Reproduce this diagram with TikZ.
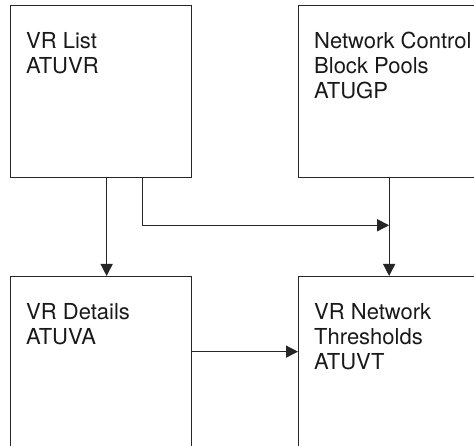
\documentclass[tikz,border=0pt]{standalone}
\usepackage{fontspec}
\setmainfont{TeX Gyre Heros}
\usetikzlibrary{arrows.meta,positioning}

\tikzset{
  blockbox/.style={draw=black!85,line width=1.3pt,minimum width=181pt,minimum height=172pt,inner sep=0pt,anchor=north west},
  blocktext/.style={anchor=north west,inner sep=0pt,align=left,text=black!90,font=\fontsize{22}{25}\selectfont},
  arr/.style={draw=black!85,line width=1.3pt,-{Triangle[length=12pt,width=12pt]}}
}

\begin{document}
\begin{tikzpicture}[x=1pt,y=1pt]
    \useasboundingbox (0,0) rectangle (474,446);
    \clip (0,0) rectangle (474,446);

    \node[blockbox] (vrlist) at (10,441) {};
    \node[blockbox] (ncbpool) at (298,441) {};
    \node[blockbox] (vrdetail) at (10,170) {};
    \node[blockbox] (vrthresh) at (298,170) {};

    \node[blocktext] (vrlisttxt) at ([shift={(16,-27)}]vrlist.north west) {VR List\\ATUVR};
    \node[blocktext] (ncbpooltxt) at ([shift={(16,-27)}]ncbpool.north west) {Network Control\\Block Pools\\ATUGP};
    \node[blocktext] (vrdetailtxt) at ([shift={(16,-27)}]vrdetail.north west) {VR Details\\ATUVA};
    \node[blocktext] (vrthreshtxt) at ([shift={(16,-27)}]vrthresh.north west) {VR Network\\Thresholds\\ATUVT};

    \coordinate (join) at ([yshift=-47pt]ncbpool.south);

    \draw[arr] ([xshift=5.5pt]vrlist.south) -- ([xshift=5.5pt]vrdetail.north);
    \draw[arr] ([xshift=41.5pt]vrlist.south) |- (join);
    \draw[arr] (ncbpool.south) -- (vrthresh.north);
    \draw[arr] ([yshift=11pt]vrdetail.east) -- ([yshift=11pt]vrthresh.west);
  \end{tikzpicture}
\end{document}
